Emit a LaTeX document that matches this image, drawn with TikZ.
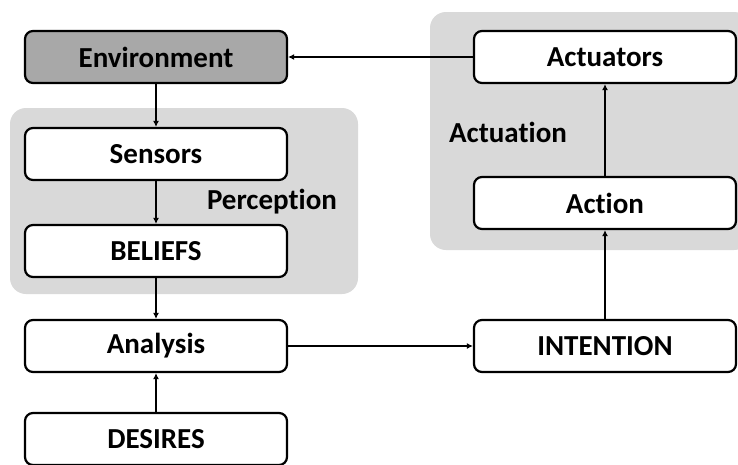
\documentclass[tikz,border=0pt]{standalone}
\usepackage{fontspec}
\setmainfont{Carlito}[Ligatures={NoCommon,NoRequired,NoContextual}]
\usetikzlibrary{arrows.meta}
\definecolor{regiongray}{HTML}{D9D9D9}
\definecolor{envgray}{HTML}{A8A8A8}
\begin{document}
\begin{tikzpicture}[x=1pt,y=-1pt,
  box/.style={draw=black, line width=2.2pt, rounded corners=8pt, fill=white,
    minimum width=262pt, minimum height=52pt, inner sep=0pt,
    font=\fontsize{29}{32}\selectfont\bfseries},
  region/.style={fill=regiongray, rounded corners=16pt},
  grouplabel/.style={font=\fontsize{29}{32}\selectfont\bfseries},
  flow/.style={line width=1.8pt, -{Latex[length=6pt,width=6pt]}}]
\useasboundingbox (0,0) rectangle (738,464);
\fill[white] (0,0) rectangle (738,464);
% grouping regions
\fill[region] (10,108) rectangle (358,294);
\fill[region] (430,12) rectangle (750,250);
% nodes
\node[box, fill=envgray] (env) at (156,57) {Environment};
\node[box] (sens) at (156,154) {Sensors};
\node[box] (bel) at (156,251) {BELIEFS};
\node[box] (ana) at (156,346) {Analysis};
\node[box] (des) at (156,439) {DESIRES};
\node[box] (int) at (605,346) {INTENTION};
\node[box] (act) at (605,203) {Action};
\node[box] (actu) at (605,57) {Actuators};
\node[grouplabel] (perc) at (272,202) {Perception};
\node[grouplabel] (actn) at (508,132) {Actuation};
% connectors
\draw[flow] (env) -- (sens);
\draw[flow] (sens) -- (bel);
\draw[flow] (bel) -- (ana);
\draw[flow] (des) -- (ana);
\draw[flow] (ana) -- (int);
\draw[flow] (int) -- (act);
\draw[flow] (act) -- (actu);
\draw[flow] (actu) -- (env);
\end{tikzpicture}
\end{document}
